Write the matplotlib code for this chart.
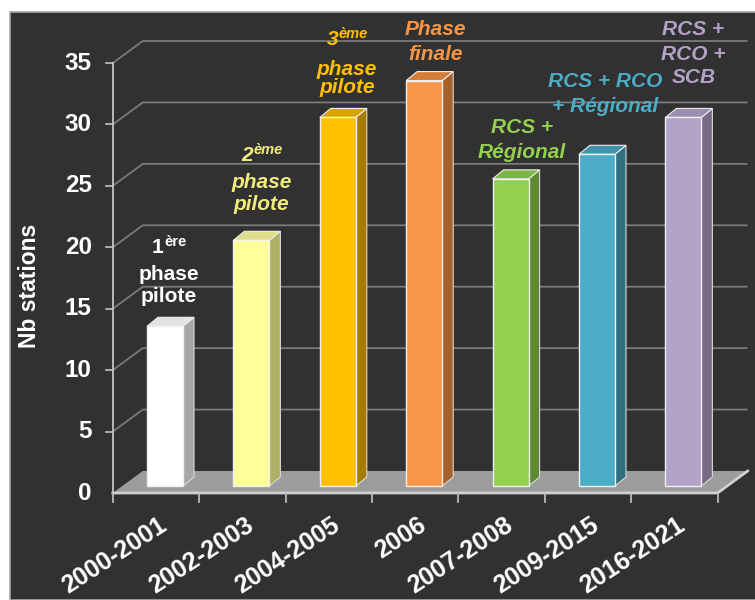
import matplotlib
matplotlib.use('Agg')
import matplotlib.pyplot as plt
from matplotlib.patches import Polygon, Rectangle
from matplotlib.transforms import offset_copy

# ── data ──────────────────────────────────────────────────────────────────────
periods = ['2000-2001', '2002-2003', '2004-2005', '2006',
           '2007-2008', '2009-2015', '2016-2021']
stations = [13, 20, 30, 33, 25, 27, 30]
y_ticks = [0, 5, 10, 15, 20, 25, 30, 35]

# phase notes above each bar ('^' marks a superscript)
notes = [
    ['1^ère', 'phase', 'pilote'],
    ['2^ème', 'phase', 'pilote'],
    ['3^ème', 'phase', 'pilote'],
    ['Phase', 'finale'],
    ['RCS +', 'Régional'],
    ['RCS + RCO', '+ Régional'],
    ['RCS +', 'RCO +', 'SCB'],
]

# ── colours ───────────────────────────────────────────────────────────────────
FRONT = ['#ffffff', '#ffff99', '#ffc000', '#f79646', '#92d050', '#4bacc6', '#b3a2c7']
SIDE  = ['#a6a6a6', '#b0b064', '#a67c00', '#a6602b', '#5e8a33', '#2f6f80', '#766a85']
TOP   = ['#e2e2e2', '#dede88', '#d9a300', '#d47e3a', '#7db544', '#3f93a8', '#9c8eae']
NOTE_C = ['#ffffff', '#f0ec7c', '#ffc000', '#f79646', '#92d050', '#4bacc6', '#b3a2c7']
BG     = '#313131'
GRID   = '#7a7a7a'
AXIS   = '#c4c4c4'
FLOOR  = '#9c9c9c'

# ── pixel layout (figure is 755 x 600 px at 100 dpi) ─────────────────────────
W, H = 755, 600
X0, CAT = 156, 86.4          # centre of first category, category width
Y0, UNIT = 493, 430 / 35     # baseline row, px per station


def dx(px):
    return px / CAT


def dy(px):
    return px / UNIT


WALL_X, WALL_Y = dx(30), dy(22)   # depth of floor / back wall
BAR_X, BAR_Y = dx(9), dy(7)       # front face of bars sits this deep
DEP_X, DEP_Y = dx(11), dy(9)      # bar depth
BAR_W = dx(36)

# note placement: x shift from bar centre and baselines (px from top)
NOTE_DX = [13, 19, 18, 20, 20, 17, 19]
NOTE_BASE = [
    [253, 280, 302],
    [161, 188, 210],
    [45, 75, 93],
    [35, 60],
    [133, 158],
    [87, 112],
    [35, 60, 83],
]

fig = plt.figure(figsize=(W / 100, H / 100), dpi=100, facecolor='white')
fig.add_artist(Rectangle((10 / W, 0), 1, (H - 12) / H, transform=fig.transFigure,
                         facecolor=BG, edgecolor='#a8a8a8', lw=1.2, zorder=0))

ax = fig.add_axes([0, 0, 1, 1])
ax.set_xlim(-X0 / CAT, (W - X0) / CAT)
ax.set_ylim(-(H - Y0) / UNIT, Y0 / UNIT)
ax.axis('off')

n = len(periods)
left, right = -0.5, n - 0.5

# back wall gridlines (diagonal on the side wall, flat on the back wall)
for v in y_ticks[1:]:
    ax.plot([left, left + WALL_X, right + WALL_X], [v, v + WALL_Y, v + WALL_Y],
            color=GRID, lw=1.3, zorder=1, solid_capstyle='butt')
    ax.plot([left - dx(7), left], [v, v], color=AXIS, lw=1.2, zorder=3)

# floor slab
ax.add_patch(Polygon([(left, 0), (right, 0), (right + WALL_X, WALL_Y),
                      (left + WALL_X, WALL_Y)], closed=True,
                     facecolor=FLOOR, edgecolor='none', zorder=2))
ax.plot([left, right, right + WALL_X], [0, 0, WALL_Y], color='#d0d0d0',
        lw=2, zorder=3, solid_joinstyle='miter')
ax.plot([left, left], [0, y_ticks[-1]], color=AXIS, lw=1.3, zorder=3)

# category ticks under the floor
for k in range(n + 1):
    ax.plot([k - 0.5, k - 0.5], [0, -dy(9)], color=AXIS, lw=1.2, zorder=3)

# y tick labels
for v in y_ticks:
    ax.text(left - dx(21), v, str(v), ha='right', va='center', fontsize=17.5,
            fontweight='bold', color='white', family='Liberation Sans', zorder=4)

# x tick labels
for i, lab in enumerate(periods):
    ax.text(i + dx(2), -dy(20), lab, ha='right', va='top', rotation=33,
            rotation_mode='anchor', fontsize=18, fontweight='bold',
            color='white', family='Liberation Sans', zorder=4)

ax.text(-dx(126), dy(493 - 286), 'Nb stations', rotation=90, ha='center',
        va='center', fontsize=16.5, fontweight='bold', color='white',
        family='Liberation Sans', zorder=4)

# pseudo-3D bars
for i, v in enumerate(stations):
    xl = i + BAR_X - BAR_W / 2
    xr = xl + BAR_W
    yb, yt = BAR_Y, v + BAR_Y
    ax.add_patch(Polygon([(xr, yb), (xr + DEP_X, yb + DEP_Y),
                          (xr + DEP_X, yt + DEP_Y), (xr, yt)], closed=True,
                         facecolor=SIDE[i], edgecolor='#d8d8d8', lw=0.8, zorder=5))
    ax.add_patch(Polygon([(xl, yt), (xr, yt), (xr + DEP_X, yt + DEP_Y),
                          (xl + DEP_X, yt + DEP_Y)], closed=True,
                         facecolor=TOP[i], edgecolor='#eeeeee', lw=0.8, zorder=5))
    ax.add_patch(Rectangle((xl, yb), BAR_W, v, facecolor=FRONT[i],
                           edgecolor='#f0f0f0', lw=1.0, zorder=6))

# notes above the bars
fig.canvas.draw()
rend = fig.canvas.get_renderer()
for i, lines in enumerate(notes):
    style = 'normal' if i == 0 else 'italic'
    x = i + dx(NOTE_DX[i])
    kw = dict(fontweight='bold', fontstyle=style, color=NOTE_C[i],
              family='Liberation Sans', va='baseline', zorder=7)
    for line, base in zip(lines, NOTE_BASE[i]):
        y = dy(Y0 - base)
        if '^' in line:
            main, sup = line.split('^')
            t1 = ax.text(x, y, main, ha='left', fontsize=15, **kw)
            t2 = ax.text(x, y, sup, ha='left', fontsize=10.5, **kw)
            w1 = t1.get_window_extent(rend).width
            w2 = t2.get_window_extent(rend).width
            t1.set_transform(offset_copy(ax.transData, fig=fig,
                                         x=-(w1 + w2) / 2, y=0, units='dots'))
            t2.set_transform(offset_copy(ax.transData, fig=fig,
                                         x=-(w1 + w2) / 2 + w1 + 1, y=7, units='dots'))
        else:
            ax.text(x, y, line, ha='center', fontsize=15, **kw)

fig.savefig('out.png', dpi=100, facecolor='white')
